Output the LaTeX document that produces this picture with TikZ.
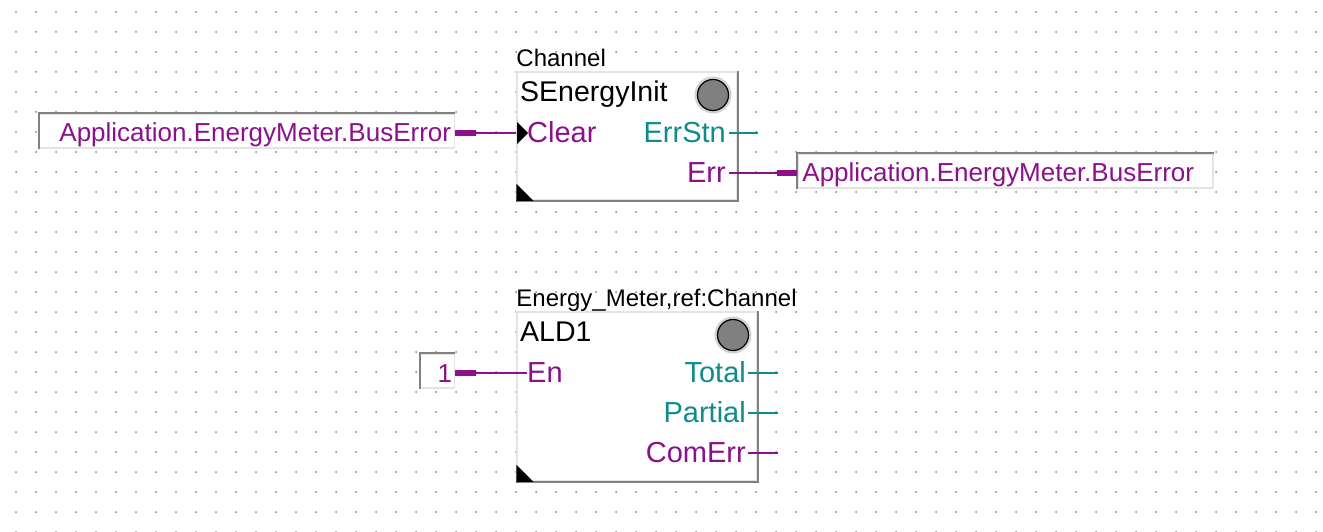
\documentclass[tikz,border=0pt]{standalone}
\usepackage{fontspec}
\setmainfont{Liberation Sans}
\usetikzlibrary{positioning}
\definecolor{signal}{HTML}{8B108B}
\definecolor{status}{HTML}{108B8B}
\definecolor{edgedark}{HTML}{808080}
\definecolor{edgelight}{HTML}{E4E4E4}

\begin{document}
\begin{tikzpicture}[
    x=1pt, y=-1pt,
    node distance=62pt,
    block/.style={rectangle, draw=edgelight, fill=white, line width=1.5pt, inner sep=0pt, minimum width=220pt},
    varbox/.style={rectangle, draw=edgelight, fill=white, line width=1.5pt, inner sep=0pt, minimum height=34pt, font=\fontsize{26}{26}\selectfont, text=signal, text height=22pt, text depth=0pt},
    caption/.style={inner sep=0pt, font=\fontsize{24}{24}\selectfont, text height=17pt, text depth=5pt},
    title/.style={inner sep=0pt, font=\fontsize{28.5}{28}\selectfont, text height=23pt, text depth=6pt},
    pin/.style={inner sep=0pt, font=\fontsize{29}{28}\selectfont, text height=19pt, text depth=0pt},
    led/.style={circle, draw=black, fill=edgedark, line width=1.2pt, minimum size=31pt, inner sep=0pt},
    halo/.style={circle, fill=black!18, minimum size=37pt, inner sep=0pt},
    rim/.style={draw=edgedark, line width=2pt},
    wire/.style={line width=2pt},
    stub/.style={line width=6pt, signal}
  ]
    \useasboundingbox (0,0) rectangle (1323,532);
    % grid of the editor sheet
    \foreach \col in {0,...,65}
      \foreach \row in {0,...,26}
        \fill[edgedark] (16+20*\col,12+20*\row) circle (1pt);

    % upper block
    \node[block, minimum height=128pt] (init) at (627,136) {};
    \node[caption, anchor=south west] (initcap) at (init.north west) {Channel};
    \node[title, anchor=north west] (inittitle) at (520,78) {SEnergyInit};
    \node[halo] (initglow) at (713,95) {};
    \node[led] (initled) at (713,95) {};
    \node[pin, text=signal, anchor=west] (clear) at (527,133) {Clear};
    \node[pin, text=status, anchor=east] (errstn) at (726,133) {ErrStn};
    \node[pin, text=signal, anchor=east] (err) at (726,173) {Err};
    \node[varbox, minimum width=415pt, anchor=east] (busin) at (455,131) {\hspace{17pt}Application.EnergyMeter.BusError};
    \node[varbox, minimum width=415pt, anchor=west] (busout) at (797,171) {Application.EnergyMeter.BusError\hspace*{14pt}};
    \coordinate (errstnend) at (758,133);
    \draw[rim] (init.north east) -- (init.south east) -- (init.south west);
    \draw[rim] (busin.south west) -- (busin.north west) -- (busin.north east);
    \draw[rim] (busout.south west) -- (busout.north west) -- (busout.north east);
    \fill (init.south west) -- ++(0,-17) -- ++(17,17) -- cycle;
    \fill (517,122) -- (528,133) -- (517,144) -- cycle;
    \draw[wire, signal] (busin.east |- clear) -- (init.west |- clear);
    \draw[stub] (busin.east |- clear) -- ++(21,0);
    \draw[wire, status] (errstn.east) ++(3,0) -- (errstnend);
    \draw[wire, signal] (err.east) ++(3,0) -- (busout.west |- err);
    \draw[stub] (busout.west |- err) -- ++(-20,0);

    % lower block
    \node[block, minimum width=240pt, minimum height=169pt] (ald) at (637,396.5) {};
    \node[caption, anchor=south west] (aldcap) at (ald.north west) {Energy\_Meter,ref:Channel};
    \node[title, anchor=north west] (aldtitle) at (520,318) {ALD1};
    \node[halo] (aldglow) at (733,335) {};
    \node[led] (aldled) at (733,335) {};
    \node[pin, text=signal, anchor=west] (en) at (527,373) {En};
    \node[pin, text=status, anchor=east] (total) at (746,373) {Total};
    \node[pin, text=status, anchor=east] (partial) at (746,413) {Partial};
    \node[pin, text=signal, anchor=east] (comerr) at (746,453) {ComErr};
    \node[varbox, minimum width=34pt, anchor=east] (one) at (455,371) {\hspace{15pt}1};
    \coordinate (totalend) at (778,373);
    \coordinate (partialend) at (778,413);
    \coordinate (comerrend) at (778,453);
    \draw[rim] (ald.north east) -- (ald.south east) -- (ald.south west);
    \draw[rim] (one.south west) -- (one.north west) -- (one.north east);
    \fill (ald.south west) -- ++(0,-17) -- ++(17,17) -- cycle;
    \draw[wire, signal] (one.east |- en) -- (en.west);
    \draw[stub] (one.east |- en) -- ++(21,0);
    \draw[wire, status] (total.east) ++(2,0) -- (totalend);
    \draw[wire, status] (partial.east) ++(2,0) -- (partialend);
    \draw[wire, signal] (comerr.east) ++(2,0) -- (comerrend);
  \end{tikzpicture}
\end{document}
